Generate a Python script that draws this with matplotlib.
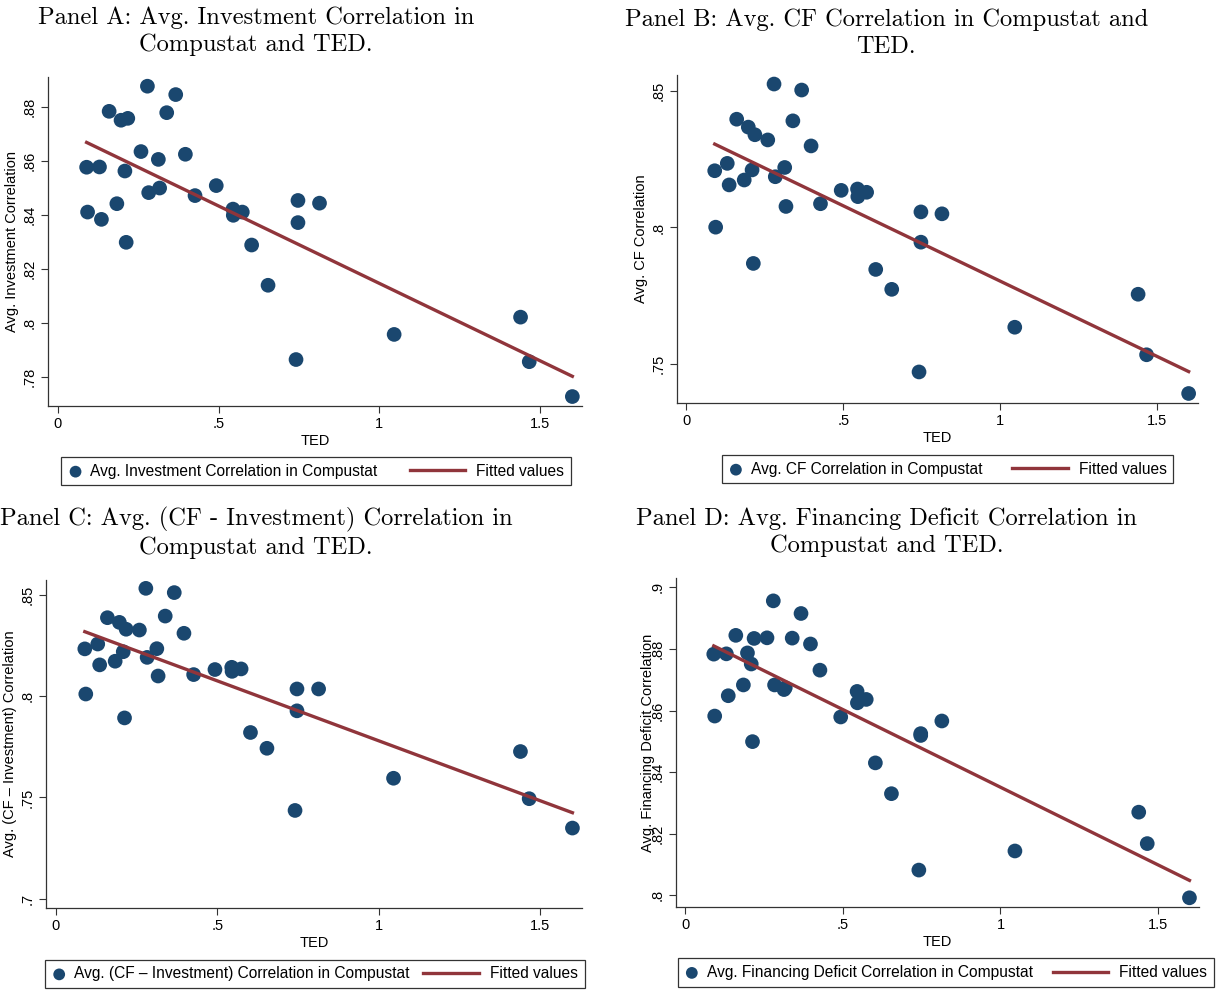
import numpy as np
import matplotlib
matplotlib.use("Agg")
import matplotlib.pyplot as plt
from matplotlib.legend_handler import HandlerLine2D

# TED spread (x axis, shared by all panels)
ted = [0.090, 0.093, 0.130, 0.136, 0.160, 0.184, 0.197, 0.209, 0.213, 0.218,
       0.259, 0.279, 0.283, 0.313, 0.317, 0.339, 0.367, 0.397, 0.427, 0.493,
       0.545, 0.546, 0.574, 0.603, 0.654, 0.741, 0.747, 0.747, 0.814, 1.046,
       1.439, 1.466, 1.600]

# Avg. correlations in Compustat, same order as ted
inv_corr = [0.8577, 0.8411, 0.8578, 0.8384, 0.8784, 0.8442, 0.8751, 0.8563, 0.8299, 0.8758,
            0.8635, 0.8877, 0.8483, 0.8606, 0.8500, 0.8779, 0.8846, 0.8625, 0.8472, 0.8509,
            0.8422, 0.8399, 0.8411, 0.8289, 0.8140, 0.7865, 0.8454, 0.8372, 0.8444, 0.7958,
            0.8022, 0.7857, 0.7728]
cf_corr = [0.8208, 0.8001, 0.8235, 0.8156, 0.8397, 0.8174, 0.8368, 0.8211, 0.7868, 0.8340,
           0.8321, 0.8526, 0.8186, 0.8220, 0.8077, 0.8391, 0.8504, 0.8299, 0.8087, 0.8136,
           0.8141, 0.8113, 0.8129, 0.7846, 0.7773, 0.7470, 0.8057, 0.7946, 0.8050, 0.7634,
           0.7755, 0.7533, 0.7391]
cf_inv_corr = [0.8234, 0.8011, 0.8258, 0.8155, 0.8388, 0.8173, 0.8365, 0.8220, 0.7893, 0.8331,
               0.8327, 0.8533, 0.8192, 0.8235, 0.8100, 0.8396, 0.8512, 0.8311, 0.8107, 0.8132,
               0.8143, 0.8123, 0.8135, 0.7821, 0.7743, 0.7436, 0.8036, 0.7928, 0.8036, 0.7595,
               0.7727, 0.7494, 0.7349]
fd_corr = [0.8783, 0.8582, 0.8784, 0.8648, 0.8844, 0.8683, 0.8787, 0.8751, 0.8499, 0.8834,
           0.8836, 0.8956, 0.8683, 0.8668, 0.8674, 0.8835, 0.8915, 0.8816, 0.8731, 0.8579,
           0.8662, 0.8625, 0.8636, 0.8430, 0.8330, 0.8082, 0.8525, 0.8519, 0.8566, 0.8144,
           0.8270, 0.8168, 0.7992]

titles = ["Panel A: Avg. Investment Correlation in\nCompustat and TED.",
          "Panel B: Avg. CF Correlation in Compustat and\nTED.",
          "Panel C: Avg. (CF - Investment) Correlation in\nCompustat and TED.",
          "Panel D: Avg. Financing Deficit Correlation in\nCompustat and TED."]
ylabels = ["Avg. Investment Correlation", "Avg. CF Correlation",
           "Avg. (CF \u2013 Investment) Correlation", "Avg. Financing Deficit Correlation"]
legend_names = ["Avg. Investment Correlation in Compustat", "Avg. CF Correlation in Compustat",
                "Avg. (CF \u2013 Investment) Correlation in Compustat",
                "Avg. Financing Deficit Correlation in Compustat"]

xticks = [0, 0.5, 1, 1.5]
xticklabels = ["0", ".5", "1", "1.5"]
yticks_a = [0.78, 0.80, 0.82, 0.84, 0.86, 0.88]
yticklabels_a = [".78", ".8", ".82", ".84", ".86", ".88"]
yticks_b = [0.75, 0.80, 0.85]
yticklabels_b = [".75", ".8", ".85"]
yticks_c = [0.70, 0.75, 0.80, 0.85]
yticklabels_c = [".7", ".75", ".8", ".85"]
yticks_d = [0.80, 0.82, 0.84, 0.86, 0.88, 0.90]
yticklabels_d = [".8", ".82", ".84", ".86", ".88", ".9"]

NAVY = "#1a476f"
MAROON = "#90353b"
LEG_FS = 11.2
EXT = 2.85     # extra legend line length to the left, in font sizes
END_CUT = 0.28  # line stops a bit before the text


class LongLine(HandlerLine2D):
    # stretch the legend line leftwards so the marker handle can stay short
    def create_artists(self, legend, orig_handle, xdescent, ydescent, width,
                       height, fontsize, trans):
        ext = EXT * fontsize
        return super().create_artists(legend, orig_handle, xdescent + ext, ydescent,
                                      width + ext - END_CUT * fontsize, height,
                                      fontsize, trans)


plt.rcParams['font.family'] = ['Liberation Sans', 'DejaVu Sans']

fig = plt.figure(figsize=(12.25, 9.9), dpi=100)

# per-panel layout: axes rect, y limits, title center, legend center, gap before line (px)
panels = [
    dict(y=inv_corr, yt=yticks_a, ytl=yticklabels_a, rect=[0.0392, 0.5899, 0.4359, 0.3323],
         ylim=(0.7693, 0.8911), tpos=(0.209, 0.9687), lpos=(0.258, 0.524), gap=32),
    dict(y=cf_corr, yt=yticks_b, ytl=yticklabels_b, rect=[0.5527, 0.5929, 0.4253, 0.3313],
         ylim=(0.7356, 0.8559), tpos=(0.7235, 0.966), lpos=(0.7735, 0.526), gap=30),
    dict(y=cf_inv_corr, yt=yticks_c, ytl=yticklabels_c, rect=[0.0376, 0.0828, 0.4376, 0.3313],
         ylim=(0.6954, 0.8574), tpos=(0.209, 0.4616), lpos=(0.257, 0.0162), gap=14),
    dict(y=fd_corr, yt=yticks_d, ytl=yticklabels_d, rect=[0.5518, 0.0838, 0.4269, 0.3323],
         ylim=(0.7962, 0.903), tpos=(0.7235, 0.4621), lpos=(0.772, 0.0177), gap=20),
]

fs_px = LEG_FS * 100 / 72.0
x = np.array(ted)
for i, p in enumerate(panels):
    ax = fig.add_axes(p['rect'])
    y = np.array(p['y'])
    sc = ax.scatter(x, y, s=112, color=NAVY, edgecolors='none', zorder=3,
                    label=legend_names[i])
    # linear fit, like Stata's lfit
    b, a = np.polyfit(x, y, 1)
    xs = np.array([x.min(), x.max()])
    ln, = ax.plot(xs, a + b * xs, color=MAROON, lw=2.4, zorder=4,
                  label="Fitted values")

    ax.set_xlim(-0.03, 1.63)
    ax.set_ylim(*p['ylim'])
    ax.set_xticks(xticks)
    ax.set_xticklabels(xticklabels, fontsize=10.5)
    ax.set_yticks(p['yt'])
    ax.set_yticklabels(p['ytl'], fontsize=10.5, rotation=90, va='center')
    ax.tick_params(direction='out', length=5, width=0.8, color='#333333', pad=3)
    for s in ['top', 'right']:
        ax.spines[s].set_visible(False)
    for s in ['left', 'bottom']:
        ax.spines[s].set_linewidth(0.9)
        ax.spines[s].set_color('#333333')
    ax.set_xlabel("TED", fontsize=10.5, labelpad=2)
    ax.set_ylabel(ylabels[i], fontsize=10.5, labelpad=3 if i != 3 else -3)

    fig.text(p['tpos'][0], p['tpos'][1], titles[i], ha='center', va='center',
             fontsize=17.6, family='cmr10', linespacing=1.28)

    leg = ax.legend(handles=[sc, ln], loc='center', bbox_to_anchor=p['lpos'],
                    bbox_transform=fig.transFigure, ncol=2, fontsize=LEG_FS,
                    frameon=True, fancybox=False, edgecolor='black',
                    columnspacing=p['gap'] / fs_px + EXT, handlelength=1.0,
                    handletextpad=0.45, borderpad=0.42, borderaxespad=0,
                    markerscale=0.8, scatterpoints=1,
                    handler_map={ln: LongLine()})
    leg.get_frame().set_linewidth(0.9)

fig.savefig("out.png", dpi=100, facecolor='white')
